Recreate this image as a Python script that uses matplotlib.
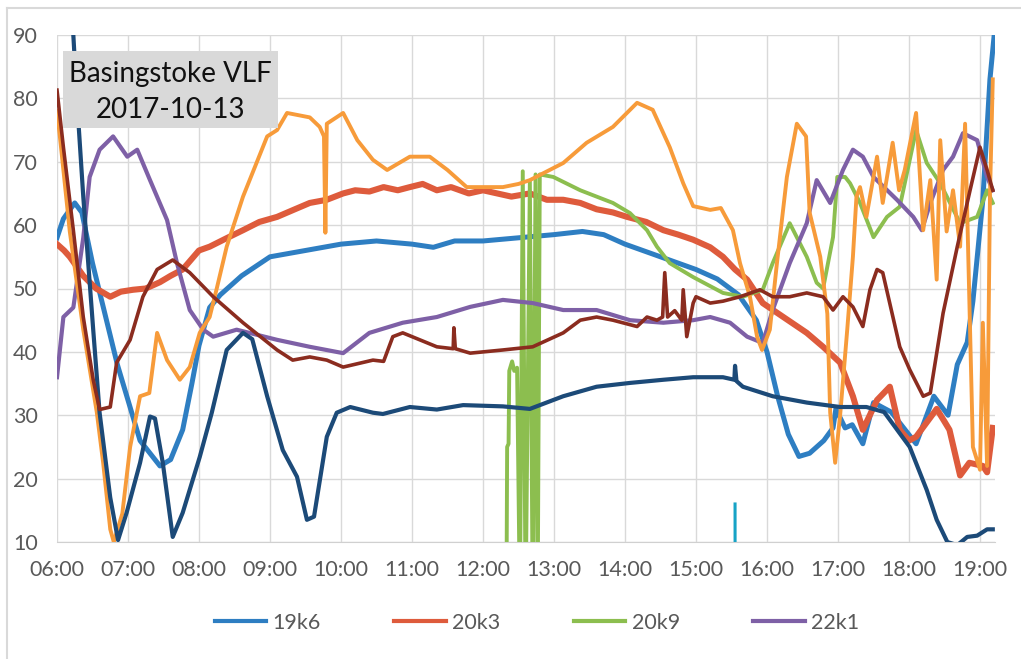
import matplotlib
matplotlib.use("Agg")
import matplotlib.pyplot as plt
from matplotlib.patches import Rectangle
from matplotlib.lines import Line2D
import numpy as np

plt.rcParams['font.family'] = ['Lato', 'DejaVu Sans']

# time of day in hours, signal level
t_19k6 = [6.0, 6.09, 6.25, 6.35, 6.5, 6.85, 7.17, 7.45, 7.6, 7.77,
          7.9, 8.0, 8.15, 8.3, 8.6, 9.0, 9.5, 10.0, 10.5, 11.0,
          11.3, 11.6, 12.0, 12.5, 13.0, 13.4, 13.7, 14.0, 14.5, 15.0,
          15.3, 15.6, 15.85, 16.0, 16.15, 16.3, 16.45, 16.6, 16.8, 16.93,
          16.97, 17.1, 17.2, 17.35, 17.5, 17.75, 18.1, 18.35, 18.55, 18.68,
          18.82, 18.9, 19.04, 19.14, 19.2]
v_19k6 = [58, 61, 63.5, 62, 54, 38, 26, 22, 23, 27.7,
          35, 41, 47, 49, 52, 55, 56, 57, 57.5, 57,
          56.5, 57.5, 57.5, 58, 58.5, 59, 58.5, 57, 55, 53,
          51.5, 49, 45, 40, 33, 27, 23.5, 24, 26, 28,
          31, 28, 28.5, 25.5, 32, 30.5, 25.5, 33, 30, 38,
          41.5, 48, 64, 83, 90]

t_20k3 = [6.0, 6.1, 6.18, 6.37, 6.55, 6.75, 6.9, 7.07, 7.25, 7.45,
          7.6, 7.77, 8.0, 8.15, 8.4, 8.62, 8.85, 9.1, 9.35, 9.56,
          9.8, 10.03, 10.2, 10.4, 10.6, 10.8, 10.97, 11.15, 11.35, 11.55,
          11.8, 12.0, 12.2, 12.4, 12.66, 12.9, 13.13, 13.37, 13.6, 13.83,
          14.03, 14.3, 14.54, 14.75, 14.96, 15.2, 15.38, 15.55, 15.72, 15.94,
          16.23, 16.56, 16.79, 17.03, 17.21, 17.35, 17.55, 17.73, 17.87, 18.0,
          18.1, 18.39, 18.5, 18.57, 18.72, 18.85, 19.04, 19.1, 19.18]
v_20k3 = [57, 56, 55, 52, 50, 48.7, 49.5, 49.8, 50, 51,
          52, 53, 56, 56.6, 58, 59.2, 60.5, 61.3, 62.5, 63.5,
          64, 65, 65.5, 65.3, 66, 65.5, 66, 66.5, 65.5, 66,
          65, 65.5, 65, 64.5, 65, 64, 64, 63.5, 62.5, 62,
          61.3, 60.5, 59.2, 58.5, 57.7, 56.5, 55, 53, 51.4, 47.7,
          45.5, 43, 40.8, 38.3, 33, 27.7, 32.4, 34.5, 27.7, 26,
          26.6, 31, 29, 27.7, 20.5, 22.5, 22, 21, 28]

t_20k9 = [12.33, 12.34, 12.36, 12.37, 12.41, 12.44, 12.48, 12.52, 12.56, 12.60,
          12.66, 12.70, 12.74, 12.77, 12.80, 12.99, 13.37, 13.83, 14.07, 14.31,
          14.45, 14.63, 14.96, 15.38, 15.66, 15.94, 16.08, 16.32, 16.56, 16.7,
          16.79, 16.93, 16.99, 17.1, 17.17, 17.31, 17.5, 17.69, 17.87, 18.1,
          18.25, 18.44, 18.72, 18.96, 19.1, 19.18]
v_20k9 = [0, 25, 25.5, 37, 38.5, 37, 37.5, 0, 68.5, 0,
          67, 0, 68, 0, 68, 67.6, 65.5, 63.5, 61.9, 59.2,
          56.6, 54, 51.8, 49.3, 48.7, 49.8, 54, 60.3, 55, 50.9,
          50, 58.1, 67.6, 67.6, 66.6, 63.5, 58.1, 61.3, 62.9, 75,
          69.8, 66.6, 60.3, 61.3, 65.5, 63.5]

t_22k1 = [6.0, 6.09, 6.23, 6.37, 6.46, 6.6, 6.79, 6.99, 7.13, 7.31,
          7.55, 7.69, 7.87, 8.06, 8.2, 8.53, 9.1, 9.56, 10.03, 10.4,
          10.87, 11.35, 11.82, 12.28, 12.7, 13.13, 13.6, 14.07, 14.54, 14.96,
          15.2, 15.48, 15.72, 15.94, 16.08, 16.32, 16.56, 16.7, 16.89, 17.07,
          17.21, 17.35, 17.5, 17.83, 18.06, 18.18, 18.3, 18.48, 18.62, 18.76,
          18.96, 19.1, 19.18]
v_22k1 = [36, 45.5, 47, 58, 67.6, 71.9, 74, 70.8, 71.9, 67.1,
          60.8, 54, 46.6, 43.5, 42.4, 43.5, 41.9, 40.8, 39.8, 43,
          44.6, 45.5, 47.1, 48.2, 47.7, 46.6, 46.6, 45, 44.6, 45,
          45.5, 44.6, 42.4, 41.4, 46.6, 54, 60.3, 67.1, 63.5, 68.7,
          71.9, 70.8, 67.6, 64, 61.3, 59.2, 63.5, 68.7, 70.8, 74.5,
          73.4, 67.6, 65.5]

# unlabelled stations
t_orange = [6.0, 6.05, 6.18, 6.37, 6.56, 6.65, 6.75, 6.8, 6.92, 7.03,
            7.17, 7.3, 7.41, 7.55, 7.73, 7.87, 8.01, 8.15, 8.25, 8.39,
            8.62, 8.96, 9.1, 9.24, 9.56, 9.7, 9.76, 9.78, 9.8, 10.03,
            10.23, 10.45, 10.65, 10.97, 11.25, 11.5, 11.77, 12.28, 12.5, 12.66,
            13.13, 13.46, 13.83, 14.17, 14.39, 14.63, 14.82, 14.96, 15.2, 15.35,
            15.52, 15.62, 15.76, 15.86, 15.93, 16.04, 16.14, 16.28, 16.42, 16.55,
            16.6, 16.75, 16.85, 16.89, 16.96, 17.03, 17.13, 17.21, 17.26, 17.31,
            17.4, 17.55, 17.63, 17.77, 17.86, 17.94, 18.1, 18.2, 18.3, 18.39,
            18.44, 18.53, 18.62, 18.72, 18.79, 18.86, 18.9, 19.0, 19.04, 19.1,
            19.14, 19.18]
v_orange = [78, 73, 59, 43.5, 30.5, 22.5, 12, 10, 14.5, 25,
            33, 33.5, 43, 38.7, 35.6, 37.6, 43, 45.5, 50, 56.6,
            64.5, 74, 75, 77.7, 77, 75.5, 74, 58.8, 76, 77.7,
            73.4, 70.3, 68.7, 70.8, 70.8, 68.7, 66, 66, 66.5, 67.1,
            69.8, 73, 75.5, 79.3, 78.2, 72.3, 66.6, 63, 62.4, 62.7,
            59.2, 54, 48.7, 42.4, 40.3, 43.5, 54, 67.6, 76, 74,
            62, 55, 46, 30.4, 22.5, 30, 43.5, 55, 64.5, 66,
            61.3, 70.8, 63.5, 73, 65.5, 68.7, 77.7, 59.2, 67.1, 51.4,
            73.4, 59, 65.5, 56.6, 76, 43.5, 25, 21.4, 44.6, 22,
            64.5, 83]

t_navy = [6.0, 6.23, 6.28, 6.37, 6.51, 6.6, 6.75, 6.86, 6.98, 7.17,
          7.31, 7.38, 7.49, 7.63, 7.77, 8.01, 8.18, 8.39, 8.62, 8.75,
          8.96, 9.18, 9.38, 9.52, 9.62, 9.8, 9.94, 10.13, 10.45, 10.59,
          10.97, 11.35, 11.72, 12.28, 12.66, 13.13, 13.6, 14.07, 14.54, 14.96,
          15.38, 15.54, 15.55, 15.57, 15.66, 16.08, 16.56, 17.03, 17.4, 17.65,
          18.01, 18.25, 18.39, 18.54, 18.68, 18.82, 18.96, 19.1, 19.18]
v_navy = [130, 90, 80, 64.5, 43.5, 30.4, 17, 10.3, 14.6, 22.5,
          29.8, 29.5, 22.5, 10.8, 14.6, 23.4, 30.4, 40.3, 43, 42,
          33, 24.5, 20.3, 13.5, 14, 26.6, 30.4, 31.3, 30.4, 30.2,
          31.3, 30.9, 31.6, 31.4, 31, 33, 34.5, 35.1, 35.6, 36,
          36, 35.6, 37.8, 35.4, 34.5, 33, 32, 31.3, 31.3, 30.5,
          25, 18.2, 13.5, 10, 9.5, 10.8, 11, 12, 12]

t_brown = [6.0, 6.09, 6.23, 6.37, 6.51, 6.6, 6.75, 6.84, 7.03, 7.21,
           7.41, 7.63, 7.87, 8.2, 8.62, 9.1, 9.32, 9.56, 9.8, 10.03,
           10.45, 10.6, 10.73, 10.87, 11.11, 11.35, 11.58, 11.59, 11.61, 11.82,
           12.28, 12.7, 13.13, 13.37, 13.6, 13.83, 14.17, 14.31, 14.45, 14.53,
           14.56, 14.6, 14.7, 14.8, 14.82, 14.87, 14.96, 15.0, 15.2, 15.38,
           15.62, 15.9, 16.08, 16.32, 16.56, 16.79, 16.93, 17.07, 17.21, 17.35,
           17.45, 17.55, 17.63, 17.87, 18.01, 18.2, 18.3, 18.48, 18.68, 18.86,
           19.0, 19.1, 19.18]
v_brown = [81.3, 72.3, 59.2, 45.5, 35.6, 30.9, 31.3, 38.3, 41.9, 48.7,
           53, 54.5, 52.5, 48.7, 44.6, 40.3, 38.7, 39.2, 38.7, 37.6,
           38.7, 38.5, 42.4, 43, 41.9, 40.8, 40.5, 43.8, 40.5, 39.8,
           40.3, 40.8, 43, 45, 45.5, 45, 44, 45.5, 45, 45.5,
           52.5, 45.5, 46.5, 45, 49.8, 42.4, 47.7, 48.7, 47.7, 48,
           48.7, 49.8, 48.7, 48.7, 49.3, 48.7, 46.6, 48.7, 47.1, 44,
           49.8, 53, 52.5, 40.8, 37.2, 33, 33.5, 46.1, 56.6, 65.5,
           72.3, 68.7, 65.5]

t_cyan = [15.55, 15.551]
v_cyan = [16, 0]

series = [
    (t_19k6, v_19k6, '#2E7EC2', 3.6),
    (t_20k3, v_20k3, '#DE5B3C', 4.4),
    (t_20k9, v_20k9, '#8CBE4F', 2.8),
    (t_22k1, v_22k1, '#7E60A6', 3.0),
    (t_orange, v_orange, '#F79B3A', 2.8),
    (t_navy, v_navy, '#1C4A78', 3.0),
    (t_brown, v_brown, '#8B2C1F', 2.6),
    (t_cyan, v_cyan, '#17A3C6', 2.2),
]

legend_names = ['19k6', '20k3', '20k9', '22k1']

W, H = 1021, 659
fig = plt.figure(figsize=(W / 100, H / 100), dpi=100)
ax = fig.add_axes([57 / W, 1 - 542 / H, (995 - 57) / W, (542 - 35) / H])

for t, v, c, lw in series:
    ax.plot(t, v, color=c, lw=lw, solid_joinstyle='round', zorder=3)

ax.set_xlim(6, 6 + 938 / 71)
ax.set_ylim(10, 90)
hours = list(range(6, 20))
ax.set_xticks(hours)
ax.set_xticklabels([f"{h:02d}:00" for h in hours])
ax.set_yticks(range(10, 91, 10))
ax.grid(True, color='#d9d9d9', lw=1.0, zorder=0)
ax.set_axisbelow(True)
for s in ['top', 'right', 'left']:
    ax.spines[s].set_visible(False)
ax.spines['bottom'].set_color('#d0d0d0')
ax.tick_params(length=0, labelsize=15.5, colors='#595959')
ax.tick_params(axis='x', pad=13)
ax.tick_params(axis='y', pad=14)

# title box
fig.add_artist(Rectangle((63 / W, 1 - 128 / H), 215 / W, 77 / H,
                         transform=fig.transFigure, facecolor='#d9d9d9',
                         edgecolor='none', zorder=5))
fig.text(170 / W, 1 - 92 / H, "Basingstoke VLF\n2017-10-13", ha='center', va='center',
         fontsize=20, color='#111111', linespacing=1.45, zorder=6)

# chart border
fig.add_artist(Line2D([7 / W, 7 / W], [0, 1 - 8 / H], transform=fig.transFigure,
                      color='#d9d9d9', lw=1.5))
fig.add_artist(Line2D([7 / W, 1], [1 - 8 / H, 1 - 8 / H], transform=fig.transFigure,
                      color='#d9d9d9', lw=1.5))

handles = [Line2D([], [], color=series[i][2], lw=3) for i in range(4)]
fig.legend(handles, legend_names, loc='center', bbox_to_anchor=(537 / W, 1 - 623 / H),
           ncol=4, frameon=False, fontsize=15.5, handlelength=2.4, handletextpad=0.3,
           columnspacing=3.4, labelcolor='#595959')

fig.savefig('out.png', dpi=100)
